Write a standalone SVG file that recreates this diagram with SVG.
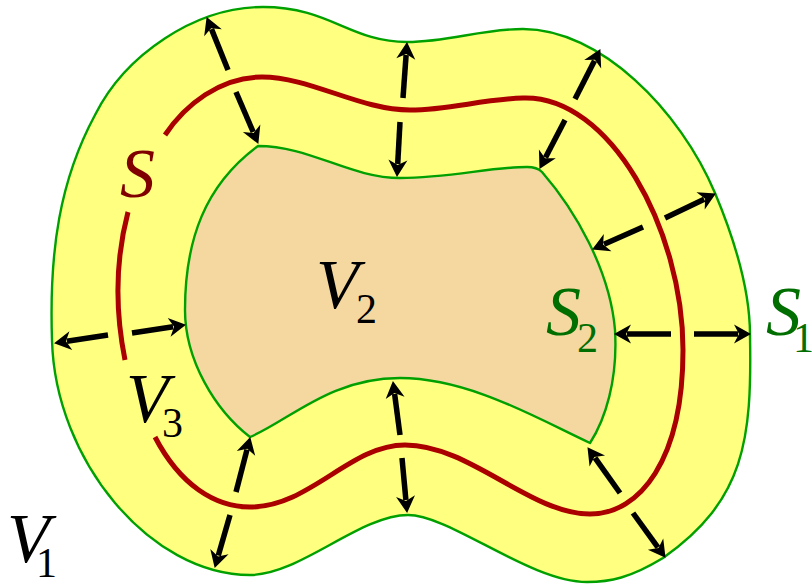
<svg xmlns="http://www.w3.org/2000/svg" width="812" height="586" viewBox="0 0 812 586">
<style>
.bound{stroke:#00a000;stroke-width:2.4;stroke-linejoin:round}
.s{fill:none;stroke:#aa0000;stroke-width:5;stroke-linecap:butt}
.arr{stroke:#000;stroke-width:5.5;fill:none;marker-end:url(#ah)}
</style>
<defs>
<marker id="ah" markerUnits="userSpaceOnUse" viewBox="0 -9.5 17 19" markerWidth="17" markerHeight="19" refX="4" refY="0" orient="auto" overflow="visible">
<path d="M0,-9.5 L17,0 L0,9.5 L5,0 Z" fill="#000"/>
</marker>
</defs>
<g id="regionV3">
<path class="bound" fill="#ffff80" d="M263,7 C330,7 350,42 407,42 C450,42 480,29 523,29 C600,29 680,110 715,193 C736,243 750,290 750,335 C752,440 745,500 663,558 C630,578 610,582 587,582 C530,582 450,515 408,515 C360,515 300,575 250,575 C150,575 55,460 52,340 C49,250 60,180 95,115 C125,55 195,7 263,7 Z"/>
</g>
<g id="regionV2">
<path class="bound" fill="#f5d8a0" d="M258,146 C310,146 350,178 400,178 C450,178 490,167 527,167 Q537,167 542,172 C575,210 610,270 615,330 C618,380 605,420 590,443 C540,420 470,378 400,378 C330,378 290,420 250,437 C215,410 185,360 185,310 C185,240 205,185 258,146 Z"/>
</g>
<g id="surfaceS">
<path class="s" d="M128,212 C118,250 113,300 125,360"/>
<path class="s" d="M155,437 C180,485 215,507 250,507 C310,507 350,445 405,445 C470,445 530,514 590,514 C640,514 683,460 683,350 C683,230 610,95 523,98 C480,99.5 450,110 410,110 C360,110 310,77 262,77 C220,77 185,105 165,135"/>
</g>
<g id="connectors">
<line class="arr" x1="228" y1="70" x2="211.5" y2="29.1"/>
<line class="arr" x1="236" y1="92" x2="253.2" y2="132"/>
<line class="arr" x1="403" y1="98" x2="406.1" y2="55"/>
<line class="arr" x1="400" y1="122" x2="397.7" y2="164"/>
<line class="arr" x1="575" y1="99" x2="594.5" y2="60.7"/>
<line class="arr" x1="565" y1="120" x2="545.5" y2="157.4"/>
<line class="arr" x1="665" y1="218" x2="704.2" y2="199.2"/>
<line class="arr" x1="643" y1="227" x2="604" y2="244.2"/>
<line class="arr" x1="694" y1="334" x2="738" y2="334"/>
<line class="arr" x1="671" y1="334" x2="627" y2="334"/>
<line class="arr" x1="620" y1="493" x2="595" y2="457.8"/>
<line class="arr" x1="633" y1="513" x2="657.9" y2="547.3"/>
<line class="arr" x1="400" y1="435" x2="394.6" y2="393.9"/>
<line class="arr" x1="402" y1="458" x2="405.9" y2="500"/>
<line class="arr" x1="236" y1="492" x2="247" y2="449.6"/>
<line class="arr" x1="230" y1="515" x2="218.3" y2="555.5"/>
<line class="arr" x1="108" y1="335" x2="66.9" y2="341.2"/>
<line class="arr" x1="132" y1="333" x2="173.1" y2="326.8"/>
</g>
<g id="labels" font-family="'Liberation Serif', 'DejaVu Serif', 'Times New Roman', serif">
<text font-style="italic" font-size="70" x="120" y="197" fill="#800000">S</text>
<text font-style="italic" font-size="70" x="316" y="308" fill="#000">V</text>
<text font-size="42" x="356" y="323" fill="#000">2</text>
<text font-style="italic" font-size="70" x="126" y="422" fill="#000">V</text>
<text font-size="42" x="162" y="437" fill="#000">3</text>
<text font-style="italic" font-size="70" x="7" y="562" fill="#000">V</text>
<text font-size="42" x="36" y="577" fill="#000">1</text>
<text font-style="italic" font-size="70" x="546" y="335" fill="#006e00">S</text>
<text font-size="42" x="577" y="352" fill="#006e00">2</text>
<text font-style="italic" font-size="70" x="766" y="335" fill="#006e00">S</text>
<text font-size="42" x="793" y="352" fill="#006e00">1</text>
</g>
</svg>
